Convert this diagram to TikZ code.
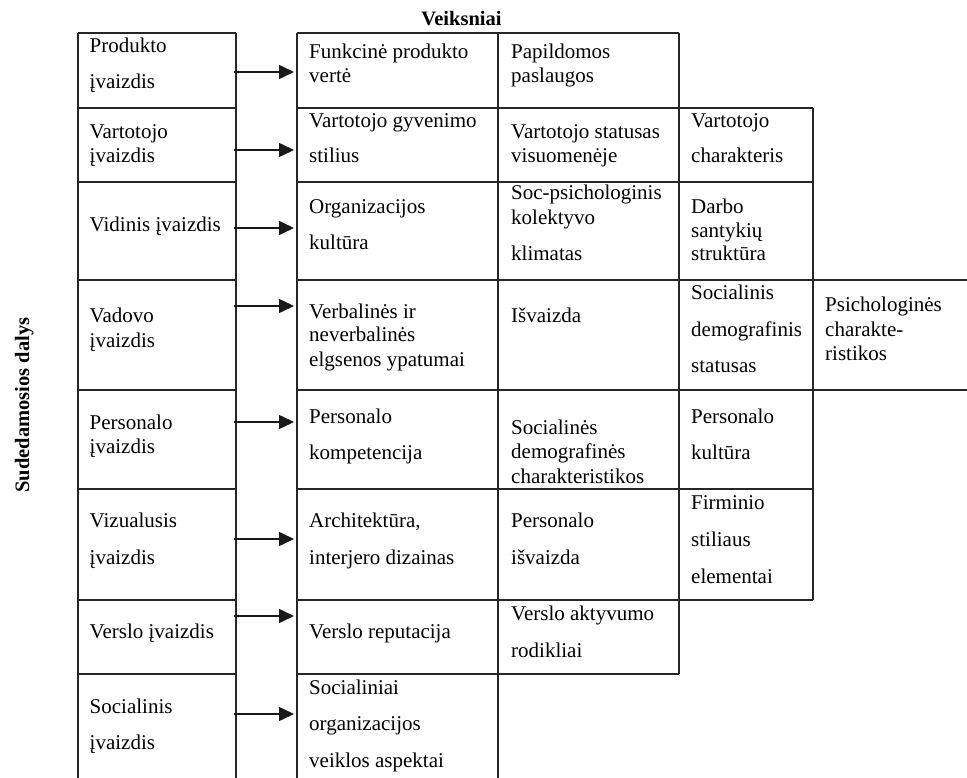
\documentclass[tikz,border=0pt]{standalone}
\usepackage{fontspec}
\setmainfont{Liberation Serif}
\usetikzlibrary{arrows.meta}
\newcommand{\cellt}[2]{\vtop{\baselineskip=#1pt\relax\lineskiplimit=-100pt #2}}
\begin{document}
\begin{tikzpicture}[x=1pt,y=-1pt,
  grid/.style={line width=1.3pt,black!85},
  txt/.style={anchor=base west,inner sep=0pt,font=\fontsize{21}{24}\selectfont},
  ttl/.style={inner sep=0pt,font=\fontsize{20.5}{24}\selectfont\bfseries},
  arr/.style={line width=1.6pt,black!90,-{Triangle[length=15pt,width=14pt]}}]
\useasboundingbox (0,0) rectangle (967,778);
\fill[white] (0,0) rectangle (967,778);
% grid
\foreach \y in {33,108,182,280,390,489,600,674} \draw[grid] (78,\y) -- (236,\y);
\draw[grid] (297,33) -- (679,33);
\draw[grid] (297,108) -- (813,108);
\draw[grid] (297,182) -- (813,182);
\draw[grid] (297,280) -- (967,280);
\draw[grid] (297,390) -- (967,390);
\draw[grid] (297,489) -- (813,489);
\draw[grid] (297,600) -- (813,600);
\draw[grid] (297,674) -- (679,674);
\foreach \x in {78,236,297,498} \draw[grid] (\x,33) -- (\x,778);
\draw[grid] (679,33) -- (679,674);
\draw[grid] (813,108) -- (813,600);
% titles
\node[ttl,anchor=base] (veik) at (461.5,26) {Veiksniai};
\node[ttl,anchor=base,rotate=90] (sud) at (29,405) {Sudedamosios dalys};
% row 1
\node[txt] (t11) at (89.5,53) {\cellt{36}{\hbox{Produkto}\hbox{įvaizdis}}};
\node[txt] (t12) at (309,59) {\cellt{24}{\hbox{Funkcinė produkto}\hbox{vertė}}};
\node[txt] (t13) at (511,59) {\cellt{24}{\hbox{Papildomos}\hbox{paslaugos}}};
% row 2
\node[txt] (t21) at (89.5,139) {\cellt{24}{\hbox{Vartotojo}\hbox{įvaizdis}}};
\node[txt] (t22) at (309,128) {\cellt{35}{\hbox{Vartotojo gyvenimo}\hbox{stilius}}};
\node[txt] (t23) at (511,139) {\cellt{24}{\hbox{Vartotojo statusas}\hbox{visuomenėje}}};
\node[txt] (t24) at (691,128) {\cellt{35}{\hbox{Vartotojo}\hbox{charakteris}}};
% row 3
\node[txt] (t31) at (89.5,232) {Vidinis įvaizdis};
\node[txt] (t32) at (309,214) {\cellt{36}{\hbox{Organizacijos}\hbox{kultūra}}};
\node[txt] (t33) at (511,200) {\cellt{25}{\hbox{Soc-psichologinis}\hbox{kolektyvo}\vskip11pt\hbox{klimatas}}};
\node[txt] (t34) at (691,214) {\cellt{23.5}{\hbox{Darbo}\hbox{santykių}\hbox{struktūra}}};
% row 4
\node[txt] (t41) at (89.5,323) {\cellt{24.5}{\hbox{Vadovo}\hbox{įvaizdis}}};
\node[txt] (t42) at (309,318) {\cellt{24}{\hbox{Verbalinės ir}\hbox{neverbalinės}\hbox{elgsenos ypatumai}}};
\node[txt] (t43) at (511,323) {Išvaizda};
\node[txt] (t44) at (691,300) {\cellt{36.5}{\hbox{Socialinis}\hbox{demografinis}\hbox{statusas}}};
\node[txt] (t45) at (825,312) {\cellt{24.5}{\hbox{Psichologinės}\hbox{charakte-}\hbox{ristikos}}};
% row 5
\node[txt] (t51) at (89.5,429) {\cellt{24}{\hbox{Personalo}\hbox{įvaizdis}}};
\node[txt] (t52) at (309,423) {\cellt{36}{\hbox{Personalo}\hbox{kompetencija}}};
\node[txt] (t53) at (511,434) {\cellt{24.5}{\hbox{Socialinės}\hbox{demografinės}\hbox{charakteristikos}}};
\node[txt] (t54) at (691,423) {\cellt{36}{\hbox{Personalo}\hbox{kultūra}}};
% row 6
\node[txt] (t61) at (89.5,527) {\cellt{37}{\hbox{Vizualusis}\hbox{įvaizdis}}};
\node[txt] (t62) at (309,527) {\cellt{37}{\hbox{Architektūra,}\hbox{interjero dizainas}}};
\node[txt] (t63) at (511,527) {\cellt{37}{\hbox{Personalo}\hbox{išvaizda}}};
\node[txt] (t64) at (691,509) {\cellt{37}{\hbox{Firminio}\hbox{stiliaus}\hbox{elementai}}};
% row 7
\node[txt] (t71) at (89.5,638) {Verslo įvaizdis};
\node[txt] (t72) at (309,638) {Verslo reputacija};
\node[txt] (t73) at (511,620) {\cellt{37}{\hbox{Verslo aktyvumo}\hbox{rodikliai}}};
% row 8
\node[txt] (t81) at (89.5,713) {\cellt{36}{\hbox{Socialinis}\hbox{įvaizdis}}};
\node[txt] (t82) at (309,694) {\cellt{36.5}{\hbox{Socialiniai}\hbox{organizacijos}\hbox{veiklos aspektai}}};
% arrows
\foreach \i/\y in {1/72,2/150,3/228,4/306,5/422,6/539,7/616,8/714}{
  \coordinate (s\i) at (234,\y);
  \coordinate (e\i) at (294,\y);
  \draw[arr] (s\i) -- (e\i);
}
\end{tikzpicture}
\end{document}
